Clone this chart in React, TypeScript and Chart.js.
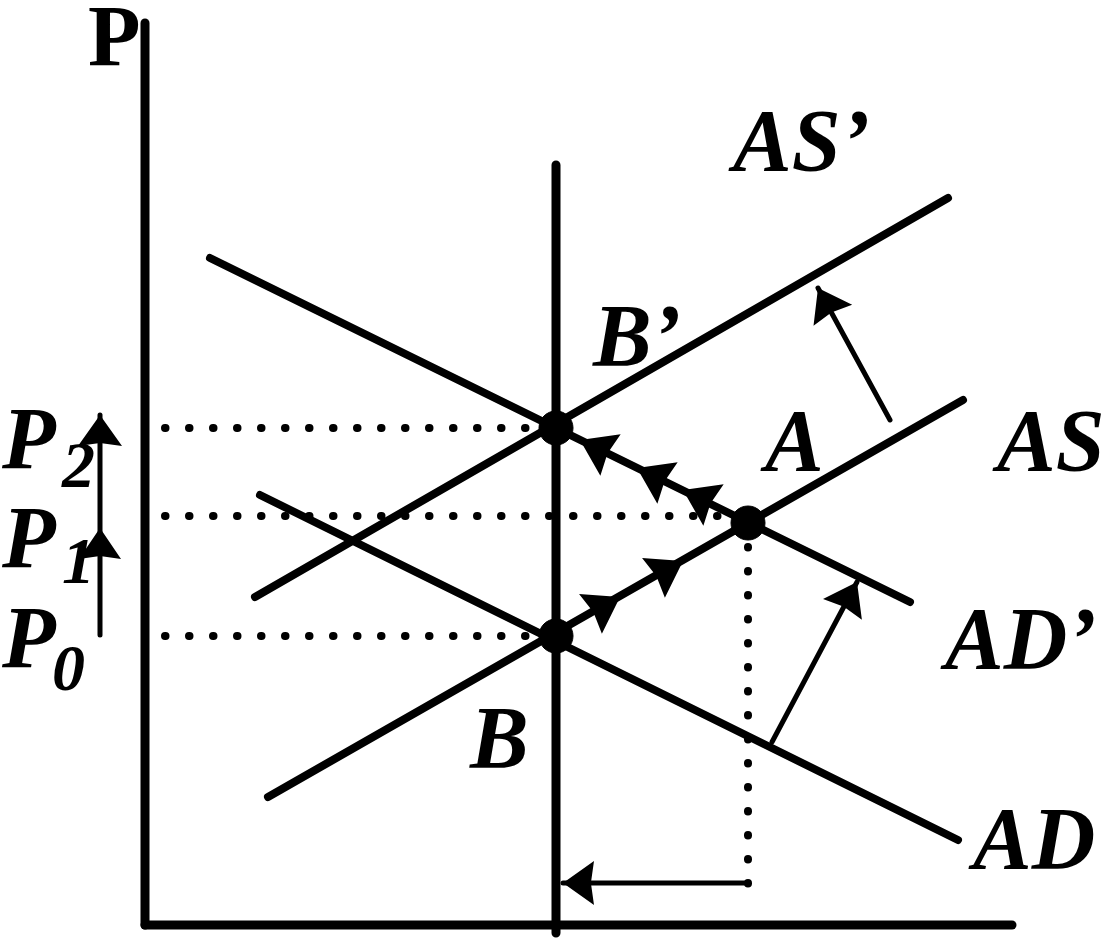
import { useEffect, useRef } from 'react';
import { Chart, registerables } from 'chart.js';
Chart.register(...registerables);

// ---- data (Q = quantity, P = price level) ----
const yAxisPts: number[][] = [[0, 0], [0, 9.02]];
const xAxisPts: number[][] = [[0, 0], [8.67, 0]];
const lrasPts: number[][] = [[4.11, 7.6], [4.11, -0.08]];
const asPrimePts: number[][] = [[1.10, 3.28], [8.03, 7.27]];
const asPts: number[][] = [[1.23, 1.28], [8.18, 5.25]];
const adPrimePts: number[][] = [[0.65, 6.67], [7.65, 3.23]];
const adPts: number[][] = [[1.15, 4.30], [8.13, 0.85]];

const priceLevels = [4.97, 4.09, 2.89]; // P2, P1, P0
const priceGuideEndQ = [4.11, 6.03, 4.11];
const guideStartQ = 0.2;
const qGuide: number[][] = [[6.03, 4.02], [6.03, 0.18]];

const equilibriumQ = [4.11, 6.03, 4.11]; // B', A, B
const equilibriumP = [4.97, 4.02, 2.89];

// path arrowheads
const adPrimeHeadQ = [4.35, 4.92, 5.38];
const adPrimeHeadP = [4.85, 4.57, 4.35];
const asHeadQ = [4.75, 5.38];
const asHeadP = [3.28, 3.64];

// shift arrows: [tail, tip]
const asShiftArrow: number[][] = [[7.45, 5.05], [6.73, 6.37]];
const adShiftArrow: number[][] = [[6.27, 1.83], [7.12, 3.43]];
const qShiftArrow: number[][] = [[6.03, 0.42], [4.18, 0.42]];
const priceArrow: number[][] = [[-0.45, 2.90], [-0.45, 5.10]];
const priceMidHead: number[] = [-0.45, 3.97];

// labels
const labelText = ['AS\u2019', 'B\u2019', 'A', 'AS', 'AD\u2019', 'B', 'AD', 'P', 'P', 'P'];
const labelQ = [5.88, 4.48, 6.20, 8.52, 8.00, 3.25, 8.28, -1.43, -1.43, -1.43];
const labelP = [7.55, 5.60, 4.55, 4.55, 2.57, 1.58, 0.57, 4.57, 3.58, 2.58];
const subText = ['2', '1', '0'];
const subQ = [-0.83, -0.83, -0.93];
const subP = [4.38, 3.42, 2.35];
const axisLabel = 'P';
const axisLabelQ = -0.57;
const axisLabelP = 8.6;

const toPts = (a: number[][]) => a.map(([x, y]) => ({ x, y }));

const solid = (pts: number[][], w: number) => ({
  type: 'line' as const,
  data: toPts(pts),
  borderColor: '#000',
  backgroundColor: '#000',
  borderWidth: w,
  borderCapStyle: 'round' as const,
  pointRadius: 0,
  showLine: true,
  fill: false,
});

const dotted = (pts: number[][]) => ({
  ...solid(pts, 8),
  borderDash: [0.5, 23.5],
});

const overlayPlugin = {
  id: 'overlay',
  afterDatasetsDraw(chart: any) {
    const { ctx, scales } = chart;
    const xs = scales.x, ys = scales.y;
    const px = (q: number) => xs.getPixelForValue(q);
    const py = (p: number) => ys.getPixelForValue(p);
    const head = (tq: number, tp: number, ang: number, len: number, wid: number) => {
      ctx.save();
      ctx.translate(px(tq), py(tp));
      ctx.rotate(ang);
      ctx.beginPath();
      ctx.moveTo(0, 0);
      ctx.lineTo(-len, wid / 2);
      ctx.lineTo(-len * 0.9, 0);
      ctx.lineTo(-len, -wid / 2);
      ctx.closePath();
      ctx.fillStyle = '#000';
      ctx.fill();
      ctx.restore();
    };
    const angleOf = (a: number[], b: number[]) =>
      Math.atan2(py(b[1]) - py(a[1]), px(b[0]) - px(a[0]));

    // heads along AD' toward B'
    const adAng = angleOf(adPrimePts[1], adPrimePts[0]);
    adPrimeHeadQ.forEach((q, i) => head(q, adPrimeHeadP[i], adAng, 34, 46));
    // heads along AS toward A
    const asAng = angleOf(asPts[0], asPts[1]);
    asHeadQ.forEach((q, i) => head(q, asHeadP[i], asAng, 34, 46));
    // shift arrows
    [asShiftArrow, adShiftArrow, qShiftArrow, priceArrow].forEach((arr) => {
      head(arr[1][0], arr[1][1], angleOf(arr[0], arr[1]), 31, 44);
    });
    head(priceMidHead[0], priceMidHead[1], angleOf(priceArrow[0], priceArrow[1]), 31, 42);

    // labels
    ctx.save();
    ctx.fillStyle = '#000';
    ctx.textBaseline = 'alphabetic';
    ctx.textAlign = 'left';
    ctx.font = 'italic bold 88px "Liberation Serif", "DejaVu Serif", serif';
    labelText.forEach((t, i) => ctx.fillText(t, px(labelQ[i]), py(labelP[i])));
    ctx.font = 'italic bold 66px "Liberation Serif", "DejaVu Serif", serif';
    subText.forEach((t, i) => ctx.fillText(t, px(subQ[i]), py(subP[i])));
    ctx.font = 'bold 86px "Liberation Serif", "DejaVu Serif", serif';
    ctx.fillText(axisLabel, px(axisLabelQ), py(axisLabelP));
    ctx.restore();
  },
};

export default function App() {
  const ref = useRef<HTMLCanvasElement | null>(null);
  useEffect(() => {
    document.body.style.margin = '0';
    document.body.style.background = '#fff';
    if (!ref.current) return;
    const datasets: any[] = [
      solid(yAxisPts, 9),
      solid(xAxisPts, 9),
      solid(lrasPts, 9),
      solid(asPrimePts, 8),
      solid(asPts, 8),
      solid(adPrimePts, 8),
      solid(adPts, 8),
      ...priceLevels.map((p, i) => dotted([[guideStartQ, p], [priceGuideEndQ[i], p]])),
      dotted(qGuide),
      solid(asShiftArrow, 5),
      solid(adShiftArrow, 5),
      solid(qShiftArrow, 5),
      solid(priceArrow, 5),
      {
        type: 'scatter',
        data: equilibriumQ.map((q, i) => ({ x: q, y: equilibriumP[i] })),
        pointRadius: 17,
        pointBackgroundColor: '#000',
        pointBorderColor: '#000',
        showLine: false,
      },
    ];
    const chart = new Chart(ref.current, {
      type: 'scatter',
      data: { datasets },
      options: {
        animation: false,
        responsive: false,
        events: [],
        layout: { padding: 0, autoPadding: false },
        plugins: { legend: { display: false }, tooltip: { enabled: false } },
        scales: {
          x: { type: 'linear', min: -1.45, max: 9.63, display: false },
          y: { type: 'linear', min: -0.15, max: 9.25, display: false },
        },
      },
      plugins: [overlayPlugin],
    });
    return () => chart.destroy();
  }, []);
  return (
    <div style={{ width: 1108, height: 940, background: '#fff' }}>
      <canvas ref={ref} width={1108} height={940} style={{ display: 'block' }} />
    </div>
  );
}
